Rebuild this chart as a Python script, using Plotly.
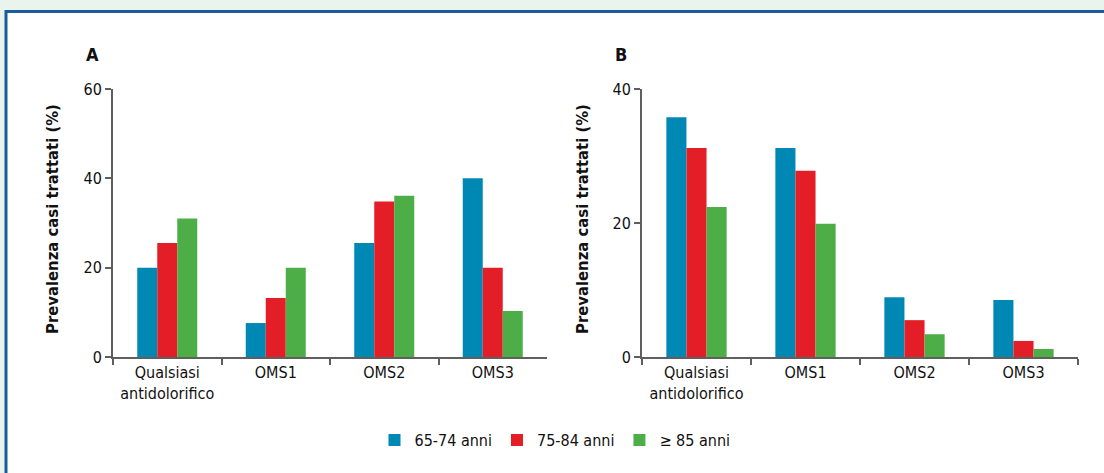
import plotly.graph_objects as go

W, H = 1104, 473

categories = ["Qualsiasi<br>antidolorifico", "OMS1", "OMS2", "OMS3"]
series_names = ["65-74 anni", "75-84 anni", "\u2265 85 anni"]
series_colors = ["#0088B5", "#E31E26", "#4DAE48"]

# Panel A values (%)
a_65_74 = [20, 7.6, 25.5, 40]
a_75_84 = [25.5, 13.2, 34.8, 20]
a_85 = [31, 20, 36.1, 10.3]

# Panel B values (%)
b_65_74 = [35.8, 31.2, 8.9, 8.5]
b_75_84 = [31.2, 27.8, 5.5, 2.4]
b_85 = [22.4, 19.9, 3.4, 1.2]

FONT = "DejaVu Sans Condensed, Liberation Sans Narrow, Arial Narrow, sans-serif"
AXIS_COLOR = "#5f5f5f"
TEXT_COLOR = "#111111"

def px_x(p):
    return p / W

def px_y(p):
    return 1 - p / H

fig = go.Figure()

panelA = [a_65_74, a_75_84, a_85]
panelB = [b_65_74, b_75_84, b_85]

for i, name in enumerate(series_names):
    fig.add_trace(go.Bar(x=categories, y=panelA[i], name=name,
                         marker=dict(color=series_colors[i], line=dict(width=0)),
                         xaxis="x", yaxis="y", legendgroup=name, showlegend=True))
for i, name in enumerate(series_names):
    fig.add_trace(go.Bar(x=categories, y=panelB[i], name=name,
                         marker=dict(color=series_colors[i], line=dict(width=0)),
                         xaxis="x2", yaxis="y2", legendgroup=name, showlegend=False))

xcommon = dict(showline=True, linecolor=AXIS_COLOR, linewidth=2, ticks="outside",
               tickson="boundaries", ticklen=6, tickwidth=2, tickcolor=AXIS_COLOR,
               showgrid=False, zeroline=False, tickangle=0, automargin=False,
               tickfont=dict(family=FONT, size=16, color=TEXT_COLOR))
ycommon = dict(showline=True, linecolor=AXIS_COLOR, linewidth=2, ticks="outside",
               ticklen=6, tickwidth=2, tickcolor=AXIS_COLOR, showgrid=False,
               zeroline=False, automargin=False,
               tickfont=dict(family=FONT, size=16, color=TEXT_COLOR))

fig.update_layout(
    width=W, height=H,
    margin=dict(l=0, r=0, t=0, b=0, autoexpand=False),
    paper_bgcolor="#EAF3EC",
    plot_bgcolor="rgba(0,0,0,0)",
    barmode="group", bargap=0.447, bargroupgap=0,
    xaxis=dict(domain=[px_x(113), px_x(547)], anchor="y", **xcommon),
    yaxis=dict(domain=[px_y(357), px_y(89)], anchor="x", range=[0, 60],
               tickvals=[0, 20, 40, 60], **ycommon),
    xaxis2=dict(domain=[px_x(642), px_x(1078)], anchor="y2", **xcommon),
    yaxis2=dict(domain=[px_y(357), px_y(89)], anchor="x2", range=[0, 40],
                tickvals=[0, 20, 40], **ycommon),
    showlegend=True,
    legend=dict(orientation="h", x=px_x(555), xanchor="center", y=px_y(440),
                yanchor="middle", font=dict(family=FONT, size=16, color=TEXT_COLOR),
                bgcolor="rgba(0,0,0,0)", itemsizing="constant"),
    shapes=[dict(type="rect", xref="paper", yref="paper",
                 x0=px_x(6), x1=px_x(1120), y0=px_y(11.5), y1=px_y(490),
                 line=dict(color="#1B5C9C", width=3), fillcolor="white",
                 layer="below")],
)

ann_font_title = dict(family=FONT, size=16.5, color=TEXT_COLOR)
annotations = [
    dict(text="<b>A</b>", x=px_x(92.5), y=px_y(55), xref="paper", yref="paper",
         showarrow=False, font=dict(family=FONT, size=18, color=TEXT_COLOR),
         xanchor="center", yanchor="middle"),
    dict(text="<b>B</b>", x=px_x(621), y=px_y(55), xref="paper", yref="paper",
         showarrow=False, font=dict(family=FONT, size=18, color=TEXT_COLOR),
         xanchor="center", yanchor="middle"),
    dict(text="<b>Prevalenza casi trattati (%)</b>", x=px_x(52), y=px_y(219),
         xref="paper", yref="paper", showarrow=False, textangle=-90,
         font=ann_font_title, xanchor="center", yanchor="middle"),
    dict(text="<b>Prevalenza casi trattati (%)</b>", x=px_x(582), y=px_y(219),
         xref="paper", yref="paper", showarrow=False, textangle=-90,
         font=ann_font_title, xanchor="center", yanchor="middle"),
]
fig.update_layout(annotations=annotations)

fig.write_html("out.html", config={"displayModeBar": False},
               post_script="document.body.style.margin='0';document.body.style.overflow='hidden';")
